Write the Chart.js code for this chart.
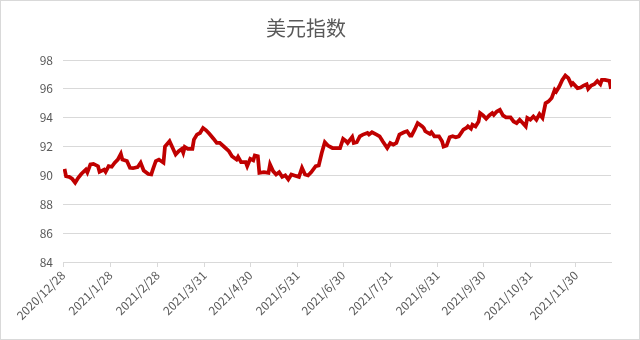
<!DOCTYPE html>
<html>
<head>
<meta charset="utf-8">
<script src="https://cdn.jsdelivr.net/npm/chart.js@4/dist/chart.umd.min.js"></script>
<style>
  body { margin: 0; background: #fff; }
  #box { width: 640px; height: 340px; box-sizing: border-box; border: 1px solid #d9d9d9; }
</style>
</head>
<body>
<div id="box"><canvas id="grafico" width="638" height="338"></canvas></div>
<script>
// dias desde 2020/12/28
const dias = [1, 2, 4, 6, 8, 10, 12, 15, 16, 18, 20, 23, 24, 27, 28, 30, 32, 34, 36, 38,
  39, 42, 44, 46, 49, 51, 53, 56, 58, 59, 61, 63, 66, 67, 70, 71, 74, 76, 78, 79,
  80, 82, 85, 86, 88, 90, 92, 94, 96, 99, 101, 103, 106, 109, 111, 114, 115, 117, 120, 121,
  123, 125, 126, 128, 129, 132, 135, 136, 138, 140, 142, 144, 146, 148, 150, 152, 155, 157, 159, 161,
  163, 166, 168, 170, 172, 174, 177, 179, 182, 184, 186, 187, 190, 191, 193, 195, 197, 200, 201, 203,
  206, 208, 210, 213, 215, 217, 219, 221, 224, 226, 228, 229, 231, 233, 236, 237, 238, 241, 242, 244,
  247, 249, 250, 252, 254, 256, 258, 260, 263, 265, 266, 268, 269, 271, 273, 274, 276, 278, 280, 282,
  283, 285, 287, 289, 291, 294, 296, 298, 300, 302, 304, 305, 307, 309, 311, 313, 315, 317, 319, 321,
  323, 324, 326, 328, 330, 332, 334, 335, 338, 340, 342, 344, 345, 347, 349, 351, 353, 354, 356, 359, 360];

const valores = [90.45, 89.95, 89.9, 89.77, 89.5, 89.84, 90.1, 90.4, 90.2, 90.76, 90.8, 90.64, 90.25, 90.4, 90.25, 90.64, 90.6, 90.88, 91.1, 91.5,
  91.1, 91.0, 90.53, 90.5, 90.57, 90.88, 90.34, 90.1, 90.07, 90.4, 91.0, 91.1, 90.88, 92.0, 92.37, 92.14, 91.45, 91.68, 91.84, 91.57,
  91.97, 91.84, 91.84, 92.48, 92.83, 92.94, 93.29, 93.13, 92.9, 92.53, 92.25, 92.25, 91.97, 91.68, 91.33, 91.1, 91.29, 90.92, 90.92, 90.64,
  91.15, 91.05, 91.38, 91.33, 90.18, 90.22, 90.18, 90.76, 90.3, 90.07, 90.22, 89.9, 90.0, 89.72, 90.07, 90.0, 89.9, 90.53, 90.07, 90.0,
  90.22, 90.64, 90.69, 91.57, 92.3, 92.07, 91.9, 91.9, 91.9, 92.53, 92.37, 92.25, 92.67, 92.25, 92.3, 92.71, 92.83, 92.94, 92.83, 92.99,
  92.83, 92.71, 92.37, 91.9, 92.25, 92.14, 92.25, 92.83, 92.99, 93.06, 92.76, 92.76, 93.17, 93.63, 93.4, 93.29, 93.06, 92.88, 93.0, 92.71,
  92.71, 92.37, 92.0, 92.07, 92.64, 92.71, 92.64, 92.71, 93.17, 93.29, 93.4, 93.24, 93.52, 93.4, 93.74, 94.32, 94.16, 93.93, 94.16, 94.32,
  94.2, 94.43, 94.55, 94.16, 94.02, 94.02, 93.74, 93.63, 93.86, 93.63, 93.4, 93.98, 93.86, 94.09, 93.86, 94.25, 93.98, 95.0, 95.13, 95.36,
  95.93, 95.81, 96.16, 96.62, 96.92, 96.74, 96.28, 96.39, 96.05, 96.09, 96.23, 96.32, 96.0, 96.23, 96.32, 96.55, 96.32, 96.62, 96.62, 96.55, 96.0];

const diasEtiqueta = [0, 31, 62, 93, 123, 154, 184, 215, 246, 276, 307, 337];
const etiquetas = ['2020/12/28', '2021/1/28', '2021/2/28', '2021/3/31', '2021/4/30', '2021/5/31',
  '2021/6/30', '2021/7/31', '2021/8/31', '2021/9/30', '2021/10/31', '2021/11/30'];

const gris = '#595959';
const fuente = "'Noto Sans CJK SC', 'Noto Sans', sans-serif";

const ctx = document.getElementById('grafico').getContext('2d');
new Chart(ctx, {
  type: 'line',
  data: {
    datasets: [{
      label: '美元指数',
      data: dias.map((d, i) => ({ x: d, y: valores[i] })),
      borderColor: '#c00000',
      borderWidth: 3.75,
      pointRadius: 0,
      tension: 0
    }]
  },
  options: {
    responsive: false,
    animation: false,
    layout: { padding: { left: 0, right: 28, top: 0, bottom: 0 } },
    plugins: {
      legend: { display: false },
      tooltip: { enabled: false },
      title: {
        display: true,
        text: '美元指数',
        color: gris,
        font: { family: fuente, size: 20, weight: 'normal' },
        padding: { top: 15, bottom: 20 }
      }
    },
    scales: {
      x: {
        type: 'linear',
        min: 0,
        max: 360,
        afterBuildTicks: scale => {
          scale.ticks = diasEtiqueta.map(v => ({ value: v }));
        },
        afterFit: scale => { scale.height = 77; },
        grid: {
          drawOnChartArea: false,
          drawTicks: true,
          tickLength: 5,
          color: '#d9d9d9'
        },
        border: { color: '#d9d9d9' },
        ticks: {
          autoSkip: false,
          minRotation: 45,
          maxRotation: 45,
          padding: 1,
          color: gris,
          font: { family: fuente, size: 12 },
          callback: value => etiquetas[diasEtiqueta.indexOf(value)]
        }
      },
      y: {
        min: 84,
        max: 98,
        afterFit: scale => { scale.width = 62; },
        grid: { color: '#d9d9d9', drawTicks: false },
        border: { display: false },
        ticks: {
          stepSize: 2,
          padding: 10,
          color: gris,
          font: { family: fuente, size: 12 }
        }
      }
    }
  }
});
</script>
</body>
</html>
